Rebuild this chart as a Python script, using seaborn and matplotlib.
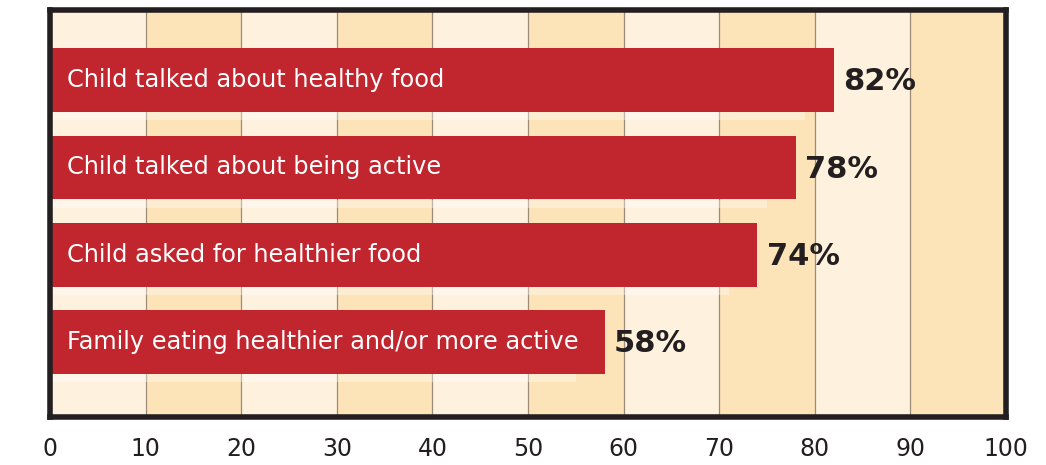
import matplotlib
matplotlib.use("Agg")
import matplotlib.pyplot as plt
import seaborn as sns
import pandas as pd

# Data
labels = [
    "Child talked about healthy food",
    "Child talked about being active",
    "Child asked for healthier food",
    "Family eating healthier and/or more active",
]
values = [82, 78, 74, 58]
ticks = [0, 10, 20, 30, 40, 50, 60, 70, 80, 90, 100]

df = pd.DataFrame({"label": labels, "value": values})

sns.set_style("white")
plt.rcParams["font.family"] = ["DejaVu Sans"]

fig = plt.figure(figsize=(10.46, 4.65), dpi=100)
ax = fig.add_axes([0.0478, 0.103, 0.9140, 0.875])

# alternating background bands
for i, t in enumerate(ticks[:-1]):
    ax.axvspan(t, t + 10, color="#FEF2DF" if i % 2 == 0 else "#FCE4B8", zorder=0, lw=0)
for t in ticks[1:-1]:
    ax.axvline(t, color="#9C8B78", lw=0.9, zorder=1)

sns.barplot(data=df, x="value", y="label", orient="h", color="#C1262E",
            saturation=1, width=0.73, linewidth=0, ax=ax, zorder=3)

# light strip under each bar
for i, v in enumerate(values):
    ax.barh(i + 0.415, v - 3, height=0.09, left=0, color="white", alpha=0.35,
            lw=0, zorder=2)

for i, (lab, v) in enumerate(zip(labels, values)):
    ax.text(1.8, i, lab, color="white", fontsize=17.3, va="center", ha="left", zorder=4)
    ax.text(v + 1.0, i + 0.02, f"{v}%", color="#231F20", fontsize=22,
            fontweight="bold", va="center", ha="left", zorder=4)

ax.set_xlim(0, 100)
ax.set_ylim(3.86, -0.8)
ax.set_xticks(ticks)
ax.set_xticklabels([str(t) for t in ticks], fontsize=17, color="#231F20")
ax.set_yticks([])
ax.set_xlabel("")
ax.set_ylabel("")
ax.tick_params(axis="x", length=0, pad=14)
for s in ax.spines.values():
    s.set_visible(True)
    s.set_color("#231F20")
    s.set_linewidth(4)
    s.set_zorder(5)

fig.savefig("out.png", dpi=100, facecolor="white")
